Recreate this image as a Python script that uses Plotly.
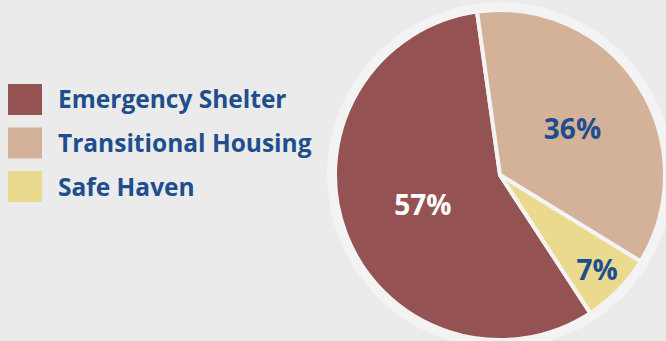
import plotly.graph_objects as go

W, H = 666, 341

labels = ["Emergency Shelter", "Transitional Housing", "Safe Haven"]
values = [57, 36, 7]
colors = ["#955252", "#D4B29A", "#EADA8E"]
text_colors = ["#FFFFFF", "#1F4E8D", "#1F4E8D"]

BG = "#EBEBEB"
RING = "#F3F3F3"
BLUE = "#1F4E8D"
FONT = "Open Sans"

# pie geometry in pixels
cx, cy, r, ring_r = 500, 175, 165, 173

def px_x(x):
    return x / W

def px_y(y):
    return (H - y) / H

fig = go.Figure()
fig.add_trace(go.Pie(
    labels=labels,
    values=values,
    sort=False,
    direction="clockwise",
    rotation=146.8,
    marker=dict(colors=colors, line=dict(color=RING, width=4)),
    texttemplate="%{percent:.0%}",
    textposition="inside",
    insidetextorientation="horizontal",
    textfont=dict(family=FONT, size=28, color=text_colors, weight=700),
    domain=dict(x=[px_x(cx - r), px_x(cx + r)], y=[px_y(cy + r), px_y(cy - r)]),
    showlegend=False,
    hoverinfo="label+percent",
))

shapes = [dict(
    type="circle", xref="paper", yref="paper", layer="below",
    x0=px_x(cx - ring_r), x1=px_x(cx + ring_r),
    y0=px_y(cy + ring_r), y1=px_y(cy - ring_r),
    fillcolor=RING, line=dict(width=0),
)]
annotations = []
leg_top, leg_step = 84, 43.5
for i, (lab, col) in enumerate(zip(labels, colors)):
    y0 = leg_top + i * leg_step
    shapes.append(dict(
        type="rect", xref="paper", yref="paper",
        x0=px_x(8), x1=px_x(42), y0=px_y(y0 + 31), y1=px_y(y0),
        fillcolor=col, line=dict(width=0),
    ))
    annotations.append(dict(
        text=lab, xref="paper", yref="paper", x=px_x(56), y=px_y(y0 + 15),
        xanchor="left", yanchor="middle", showarrow=False,
        font=dict(family=FONT, size=24.5, color=BLUE, weight=700),
    ))

fig.update_layout(
    width=W, height=H,
    margin=dict(l=0, r=0, t=0, b=0),
    paper_bgcolor=BG, plot_bgcolor=BG,
    shapes=shapes, annotations=annotations,
    showlegend=False,
)

fig.write_html("out.html", config={"displayModeBar": False},
               post_script="document.body.style.margin='0';")
